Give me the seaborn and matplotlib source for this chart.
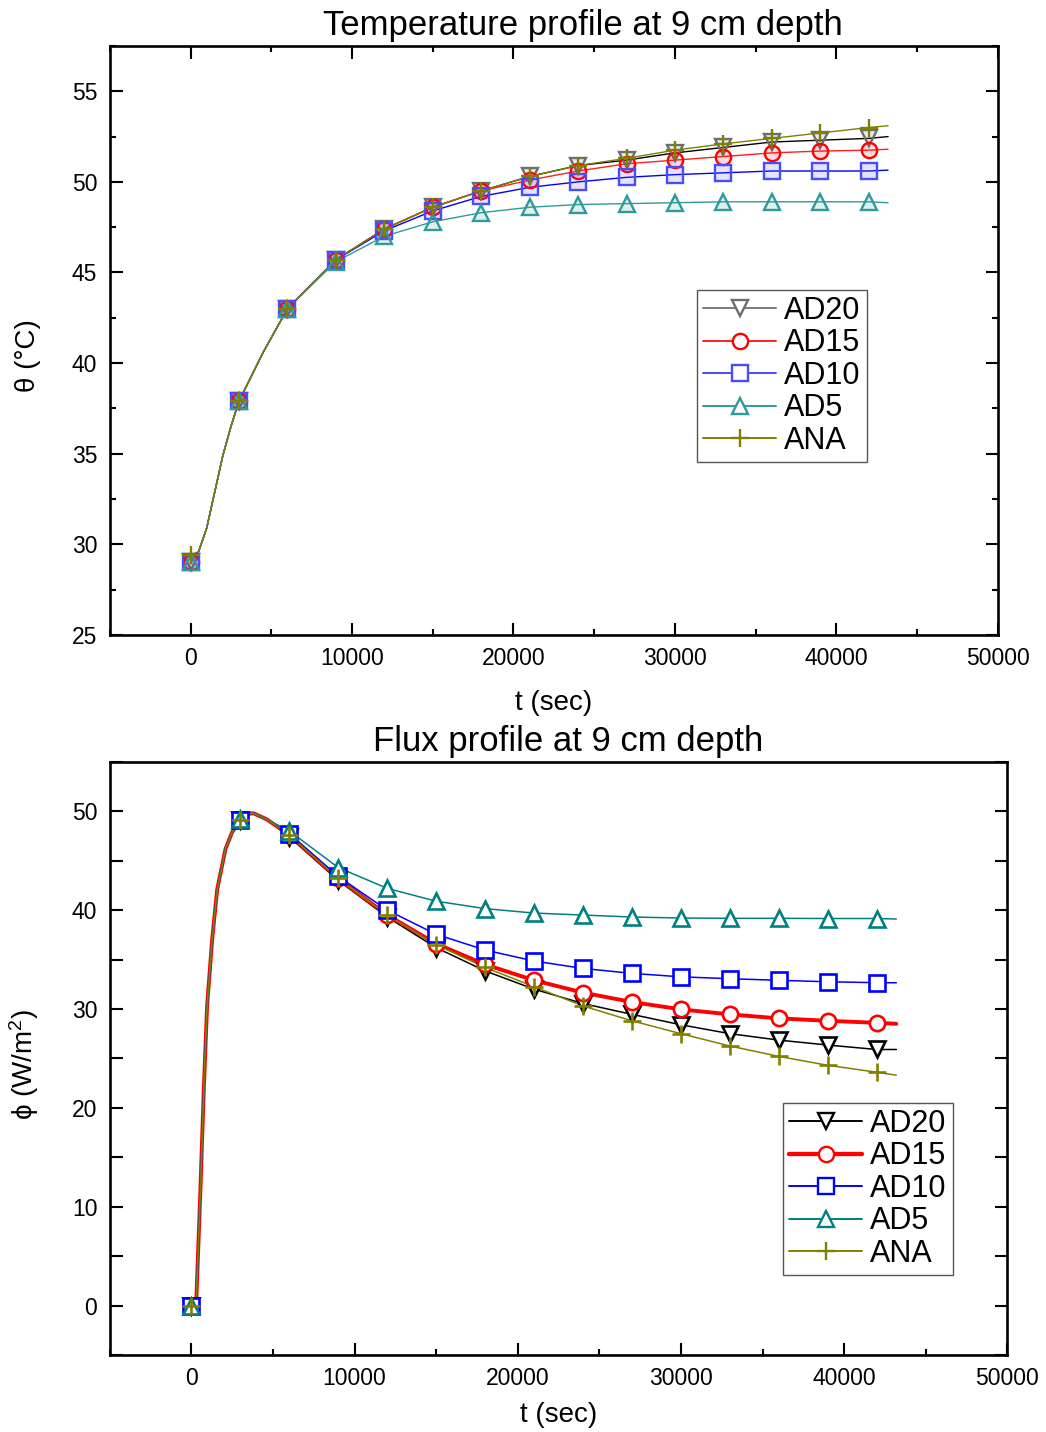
import matplotlib
matplotlib.use("Agg")
import matplotlib.pyplot as plt
from matplotlib.lines import Line2D
from matplotlib.ticker import MultipleLocator
import seaborn as sns
import numpy as np

# ---- data ----
series = ["AD20", "AD15", "AD10", "AD5", "ANA"]

# marker times (s)
t_mk = [0, 3000, 6000, 9000, 12000, 15000, 18000, 21000, 24000, 27000,
        30000, 33000, 36000, 39000, 42000]
t_end = 43200

# temperature at 9 cm depth (degC), one value per marker time
temp_ad20 = [29.0, 37.9, 43.0, 45.7, 47.4, 48.6, 49.5, 50.3, 50.9, 51.2, 51.6, 51.9, 52.2, 52.3, 52.4]
temp_ad15 = [29.0, 37.9, 43.0, 45.7, 47.4, 48.6, 49.5, 50.1, 50.6, 51.0, 51.2, 51.4, 51.6, 51.7, 51.75]
temp_ad10 = [29.0, 37.9, 43.0, 45.7, 47.3, 48.4, 49.2, 49.7, 50.0, 50.25, 50.4, 50.5, 50.6, 50.6, 50.6]
temp_ad5 = [29.0, 37.9, 43.0, 45.6, 47.0, 47.8, 48.3, 48.6, 48.75, 48.8, 48.85, 48.9, 48.9, 48.9, 48.9]
temp_ana = [29.4, 37.9, 43.0, 45.7, 47.4, 48.6, 49.5, 50.3, 50.9, 51.3, 51.75, 52.1, 52.4, 52.7, 53.0]
temp_end = [52.5, 51.8, 50.65, 48.85, 53.1]
# extra points on the (shared) early part of the temperature curve
temp_t_early = [500, 1000, 1500, 2000, 2500, 4500]
temp_v_early = [29.6, 30.9, 32.9, 34.9, 36.5, 40.6]

# heat flux at 9 cm depth (W/m2)
flux_ad20 = [0.0, 49.1, 47.4, 43.0, 39.3, 36.2, 33.85, 32.0, 30.55, 29.45, 28.4, 27.5, 26.85, 26.35, 25.9]
flux_ad15 = [0.0, 49.1, 47.6, 43.2, 39.5, 36.6, 34.5, 32.9, 31.65, 30.7, 29.96, 29.45, 29.05, 28.8, 28.6]
flux_ad10 = [0.0, 49.1, 47.7, 43.4, 40.0, 37.55, 35.96, 34.85, 34.1, 33.6, 33.25, 33.06, 32.9, 32.75, 32.66]
flux_ad5 = [0.0, 49.2, 48.0, 44.3, 42.2, 40.9, 40.15, 39.7, 39.5, 39.3, 39.2, 39.17, 39.17, 39.15, 39.15]
flux_ana = [0.0, 49.1, 47.6, 43.2, 39.5, 36.5, 34.2, 32.25, 30.3, 28.8, 27.5, 26.25, 25.2, 24.3, 23.6]
flux_end = [25.9, 28.5, 32.65, 39.1, 23.3]
# extra points on the (shared) steep rise and peak of the flux curve
flux_t_early = [300, 550, 760, 960, 1270, 1580, 2090, 2500, 3400, 3800, 4600]
flux_v_early = [0.5, 11.7, 21.9, 30.3, 37.0, 42.1, 46.2, 47.9, 49.7, 49.8, 49.2]

temp_data = [temp_ad20, temp_ad15, temp_ad10, temp_ad5, temp_ana]
flux_data = [flux_ad20, flux_ad15, flux_ad10, flux_ad5, flux_ana]

# ---- styles ----
sns.set_theme(style="ticks")
plt.rcParams["font.family"] = ["Liberation Sans", "DejaVu Sans"]
plt.rcParams["mathtext.fontset"] = "custom"
plt.rcParams["mathtext.rm"] = "Liberation Sans"
plt.rcParams["mathtext.it"] = "Liberation Sans:italic"
for k in ["text.color", "axes.labelcolor", "xtick.color", "ytick.color"]:
    plt.rcParams[k] = "black"

markers = ["v", "o", "s", "^", "+"]
top_line_col = ["black", "#ff2020", "#0000ff", "#2e9a9a", "#808000"]
top_mk_col = ["#6e6e6e", "#ff0000", "#4a4aff", "#2e9a9a", "#808000"]
top_leg_col = ["#7a7a7a", "#ff2020", "#4a4aff", "#2e9a9a", "#808000"]
bot_col = ["black", "#ff0000", "#0000ff", "#008080", "#808000"]
bot_lw = [1.1, 2.8, 1.1, 1.1, 1.1]


def build_line(vals, end, t_early, v_early):
    # combine marker readings, extra early readings and the end reading
    pts = dict(zip(t_mk, vals))
    for tt, vv in zip(t_early, v_early):
        if tt not in pts:
            pts[tt] = vv
    pts[t_end] = end
    ts = sorted(pts)
    return ts, [pts[k] for k in ts]


def style_axes(ax, ylim, ymajor, yminor, top_ticks, ylen_minor):
    ax.set_xlim(-5000, 50000)
    ax.set_ylim(*ylim)
    ax.xaxis.set_major_locator(MultipleLocator(10000))
    ax.xaxis.set_minor_locator(MultipleLocator(5000))
    ax.yaxis.set_major_locator(MultipleLocator(ymajor))
    ax.yaxis.set_minor_locator(MultipleLocator(yminor))
    for sp in ax.spines.values():
        sp.set_visible(True)
        sp.set_linewidth(1.9)
        sp.set_color("black")
    ax.tick_params(axis="x", which="major", direction="in", length=9, width=1.5,
                   top=top_ticks, bottom=True, labelsize=16.5, pad=9)
    ax.tick_params(axis="x", which="minor", direction="in", length=4.5, width=1.5,
                   top=top_ticks, bottom=True)
    ax.tick_params(axis="y", which="major", direction="in", length=9, width=1.5,
                   left=True, right=True, labelsize=16.5, pad=9)
    ax.tick_params(axis="y", which="minor", direction="in", length=ylen_minor, width=1.5,
                   left=True, right=True)
    ax.set_facecolor("white")


fig = plt.figure(figsize=(10.46, 14.32), dpi=100)
ax1 = fig.add_axes([0.105, 0.5566, 0.849, 0.4113])
ax2 = fig.add_axes([0.105, 0.0538, 0.858, 0.4142])

# ---- temperature ----
for i, name in enumerate(series):
    lt, lv = build_line(temp_data[i], temp_end[i], temp_t_early, temp_v_early)
    sns.lineplot(x=lt, y=lv, ax=ax1, color=top_line_col[i], lw=1.0,
                 estimator=None, sort=False)
for i, name in enumerate(series):
    c = matplotlib.colors.to_rgb(top_mk_col[i])
    sns.lineplot(x=t_mk, y=temp_data[i], ax=ax1, linestyle="", marker=markers[i],
                 markersize=11 if markers[i] != "+" else 13,
                 markerfacecolor=(c[0], c[1], c[2], 0.15),
                 markeredgecolor=top_mk_col[i], markeredgewidth=1.7,
                 estimator=None, sort=False)

style_axes(ax1, (25, 57.5), 5, 2.5, True, 4.5)
ax1.set_title("Temperature profile at 9 cm depth", fontsize=25, x=0.533, pad=8)
ax1.set_xlabel("t (sec)", fontsize=20, labelpad=14)
ax1.set_ylabel("θ (°C)", fontsize=20)
ax1.yaxis.set_label_coords(-0.077, 0.475)

h1 = []
for i, name in enumerate(series):
    c = matplotlib.colors.to_rgb(top_mk_col[i])
    h1.append(Line2D([], [], color=top_leg_col[i], lw=1.4, marker=markers[i],
                     markersize=11 if markers[i] != "+" else 13,
                     markerfacecolor="white" if markers[i] != "+" else c,
                     markeredgecolor=top_mk_col[i], markeredgewidth=1.7, label=name))
leg1 = ax1.legend(handles=h1, loc="upper left", bbox_to_anchor=(0.661, 0.586),
                  fontsize=22, frameon=True, fancybox=False, framealpha=1,
                  edgecolor="#555555", handlelength=2.4, handletextpad=0.25,
                  labelspacing=0.08, borderpad=0.2, borderaxespad=0)
leg1.get_frame().set_linewidth(1.0)

# ---- flux ----
for i, name in enumerate(series):
    lt, lv = build_line(flux_data[i], flux_end[i], flux_t_early, flux_v_early)
    sns.lineplot(x=lt, y=lv, ax=ax2, color=bot_col[i], lw=bot_lw[i],
                 estimator=None, sort=False)
for i, name in enumerate(series):
    sns.lineplot(x=t_mk, y=flux_data[i], ax=ax2, linestyle="", marker=markers[i],
                 markersize=11 if markers[i] != "+" else 13,
                 markerfacecolor="white", markeredgecolor=bot_col[i],
                 markeredgewidth=1.9, estimator=None, sort=False)

style_axes(ax2, (-5, 55), 10, 5, False, 9)
ax2.set_title("Flux profile at 9 cm depth", fontsize=25, x=0.511, pad=8)
ax2.set_xlabel("t (sec)", fontsize=20, labelpad=8)
ax2.set_ylabel(r"ϕ (W/m$^{\mathregular{2}}$)", fontsize=20)
ax2.yaxis.set_label_coords(-0.077, 0.489)

h2 = []
for i, name in enumerate(series):
    h2.append(Line2D([], [], color=bot_col[i], lw=bot_lw[i] + 0.3, marker=markers[i],
                     markersize=11 if markers[i] != "+" else 13,
                     markerfacecolor="white", markeredgecolor=bot_col[i],
                     markeredgewidth=1.7, label=name))
leg2 = ax2.legend(handles=h2, loc="upper left", bbox_to_anchor=(0.750, 0.425),
                  fontsize=22, frameon=True, fancybox=False, framealpha=1,
                  edgecolor="#555555", handlelength=2.4, handletextpad=0.25,
                  labelspacing=0.08, borderpad=0.2, borderaxespad=0)
leg2.get_frame().set_linewidth(1.0)

fig.savefig("out.png", dpi=100, facecolor="white")
